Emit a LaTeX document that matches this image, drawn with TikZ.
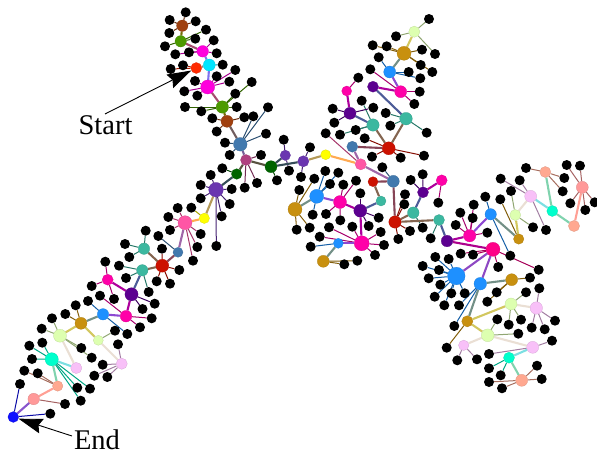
\documentclass[tikz,border=0pt]{standalone}
\usepackage{fontspec}
\setmainfont{Liberation Serif}
\usetikzlibrary{arrows.meta,backgrounds}
\definecolor{Br}{HTML}{A0400F}
\definecolor{Gr}{HTML}{4C9A00}
\definecolor{Mg}{HTML}{FF00DD}
\definecolor{Cy}{HTML}{00E5FF}
\definecolor{Rd}{HTML}{FF2A00}
\definecolor{St}{HTML}{4279AE}
\definecolor{Pl}{HTML}{B04080}
\definecolor{DG}{HTML}{006400}
\definecolor{Vi}{HTML}{6A35B0}
\definecolor{Ye}{HTML}{FFFF00}
\definecolor{Pk}{HTML}{FF55A5}
\definecolor{DR}{HTML}{CC1100}
\definecolor{Te}{HTML}{3CB8A0}
\definecolor{DP}{HTML}{5C0090}
\definecolor{HM}{HTML}{FF00A8}
\definecolor{Bl}{HTML}{1E90FF}
\definecolor{Go}{HTML}{C8900F}
\definecolor{LG}{HTML}{DDFFB0}
\definecolor{LP}{HTML}{F8C0F8}
\definecolor{Sp}{HTML}{00FFCC}
\definecolor{Sa}{HTML}{FFA890}
\definecolor{PS}{HTML}{FF9999}
\definecolor{En}{HTML}{1010FF}
\definecolor{DK}{HTML}{FF0088}
\tikzset{
  hubnode/.style={circle,inner sep=0pt,draw=#1!85!black,line width=0.25pt,fill=#1},
  leafnode/.style={circle,inner sep=0pt,minimum size=10pt,fill=black},
  leafedge/.style={line width=1pt},
  hubedge/.style={line width=2.1pt},
  callout/.style={line width=0.9pt,-{Stealth[length=24pt,width=15pt,inset=3pt]}},
  lab/.style={inner sep=0pt,font=\fontsize{28.5}{30}\selectfont},
}
\newcount\leafno
\newcommand\edgelist{}
\newcommand\addedge[1]{\xdef\edgelist{\unexpanded\expandafter{\edgelist}#1}}
\newcommand\hubline[2]{\draw[hubedge,draw=hc#1!50!hc#2] (#1) -- (#2);}
\newcommand\leafline[2]{\draw[leafedge,draw=hc#1!65!black] (#1) -- (#2);}
\newcommand\hub[5]{\colorlet{hc#1}{#4}\node[hubnode=#4,minimum size=#5*2pt] (#1) at (#2,#3) {};}
\newcommand\hh[2]{\addedge{\noexpand\hubline{#1}{#2}}}
\newcommand\lf[3]{\global\advance\leafno by 1
  \node[leafnode] (L\the\leafno) at (#2,#3) {};
  \addedge{\noexpand\leafline{#1}{L\the\leafno}}}
\begin{document}
\begin{tikzpicture}[x=1pt,y=-1pt]
\useasboundingbox (0,0) rectangle (597,455);
% hubs
\hub{aa}{182.3}{25.7}{Br}{5.7}
\hub{ab}{180.7}{41.3}{Gr}{5.7}
\hub{ac}{202.7}{51.3}{Mg}{5.8}
\hub{ad}{209.3}{65}{Cy}{6}
\hub{ae}{196.3}{68}{Rd}{5.5}
\hub{af}{207.7}{87}{Mg}{7}
\hub{ag}{222.3}{107}{Gr}{6.2}
\hub{ah}{227}{121.3}{Br}{6}
\hub{ai}{240.3}{144.3}{St}{6.8}
\hub{ba}{246}{160}{Pl}{5.5}
\hub{bb}{236.7}{174}{DG}{5.3}
\hub{bc}{271}{166.7}{DG}{6}
\hub{bd}{285.3}{155.3}{Vi}{5.2}
\hub{be}{303.3}{161.3}{Vi}{5.6}
\hub{bf}{325.7}{154.7}{Ye}{5}
\hub{bg}{216}{189.7}{Vi}{7.3}
\hub{bh}{204.3}{218.3}{Ye}{5.2}
\hub{da}{185}{222.7}{Pk}{7}
\hub{db}{178}{252.3}{St}{5}
\hub{dc}{162.3}{265.7}{DR}{6.5}
\hub{dd}{144}{248.7}{Te}{5.7}
\hub{de}{142.3}{270.3}{Te}{5.7}
\hub{df}{131.5}{294.3}{DP}{6.6}
\hub{dg}{107.7}{279.7}{HM}{5.5}
\hub{dh}{126}{316.2}{HM}{5.8}
\hub{di}{103}{314.3}{Bl}{5.7}
\hub{dj}{81}{323.3}{Go}{6}
\hub{ea}{60}{335.7}{LG}{6.5}
\hub{eb}{98.3}{340.3}{LG}{5}
\hub{ec}{121.7}{363.7}{LP}{5.6}
\hub{ed}{76.3}{368}{LP}{5.6}
\hub{ee}{51.7}{359.3}{Sp}{6.6}
\hub{ef}{57.7}{386}{Sa}{5.2}
\hub{eg}{33.7}{399}{PS}{5.8}
\hub{eh}{13.3}{417}{En}{5.4}
\hub{fa}{360.7}{164.3}{Pk}{5.6}
\hub{fb}{352.3}{146.7}{St}{5.5}
\hub{fc}{388.7}{148.3}{DR}{6.5}
\hub{fd}{406}{118.7}{Te}{6.3}
\hub{fe}{373}{125}{Te}{6.2}
\hub{ff}{350}{113.3}{DP}{6}
\hub{fg}{346.7}{91}{HM}{5}
\hub{fh}{373}{86.7}{DP}{5.5}
\hub{fi}{400.7}{91.7}{HM}{6}
\hub{fj}{389.7}{72}{Bl}{6}
\hub{fk}{404}{53.3}{Go}{7}
\hub{fl}{414.3}{31.7}{LG}{5.6}
\hub{ga}{393.3}{181.3}{St}{6}
\hub{gb}{373}{181.7}{DR}{5}
\hub{gc}{381}{201}{Te}{5}
\hub{gd}{360.3}{210.7}{DP}{6.5}
\hub{ge}{340}{202}{HM}{6.5}
\hub{gf}{316.7}{196.3}{Bl}{7}
\hub{gg}{295}{209.3}{Go}{7}
\hub{gh}{361.7}{243.3}{HM}{7.5}
\hub{gi}{338.3}{243.3}{Bl}{5}
\hub{gj}{323.3}{261.3}{Go}{6}
\hub{ha}{395}{222}{DR}{6.2}
\hub{hb}{413.3}{212.7}{Te}{5.8}
\hub{hc}{423}{192.3}{DP}{5.5}
\hub{hd}{441.7}{180.3}{HM}{5.5}
\hub{he}{439}{220}{Te}{5.5}
\hub{hf}{447}{241}{DP}{5.8}
\hub{ia}{469.7}{235.7}{HM}{6.2}
\hub{ib}{493}{249.3}{DK}{7}
\hub{ic}{490.7}{214.3}{Bl}{5.7}
\hub{id}{518.7}{239}{Go}{5.2}
\hub{ie}{515.3}{215}{LG}{5.5}
\hub{if}{530.7}{196.3}{LP}{6}
\hub{ig}{552.3}{211}{Sp}{5.5}
\hub{ih}{545.3}{172}{Sa}{5.5}
\hub{ii}{574}{226}{Sa}{5.6}
\hub{ij}{582.3}{187.3}{PS}{6}
\hub{ja}{456.3}{276}{Bl}{8.8}
\hub{jb}{480.3}{283.7}{Bl}{6.3}
\hub{jc}{511.7}{279.7}{Go}{6}
\hub{jd}{467.3}{321.3}{Go}{5.6}
\hub{je}{511}{304}{LG}{6}
\hub{jf}{536.3}{308}{LP}{6.2}
\hub{jg}{487.7}{335.3}{LG}{6.4}
\hub{jh}{463.7}{345.3}{LP}{5.2}
\hub{ji}{532.7}{347.3}{LP}{6}
\hub{jj}{509}{357.7}{Sp}{5.5}
\hub{jk}{521.7}{380.3}{Sa}{6}
% leaves
\lf{aa}{185.7}{12.3}\lf{aa}{169.7}{20}\lf{aa}{195.7}{21.3}\lf{aa}{169.3}{33}
\lf{ab}{206}{29.7}\lf{ab}{165}{46.3}\lf{ab}{195.3}{38.7}
\lf{ac}{213.7}{40.3}\lf{ac}{189}{52.3}\lf{ac}{175.3}{54.3}\lf{ac}{216.7}{53.3}
\lf{ad}{222.7}{64.7}
\lf{ae}{170.7}{69}\lf{ae}{183}{65.3}
\lf{af}{235.3}{70}\lf{af}{229.3}{81.7}\lf{af}{195}{81}\lf{af}{184.3}{91.3}\lf{af}{197.3}{95.7}\lf{af}{216.7}{76.3}
\lf{ag}{251.7}{82}\lf{ag}{235.3}{93.7}\lf{ag}{236.7}{107}\lf{ag}{185}{107}\lf{ag}{201.3}{111.3}
\lf{ah}{212.3}{118.3}\lf{ah}{244.3}{117.3}\lf{ah}{216.7}{131.5}
\lf{ai}{225}{142.7}\lf{ai}{229.7}{155}\lf{ai}{266}{133.7}\lf{ai}{268}{107.3}\lf{ai}{253.3}{116.3}
\lf{ba}{261}{155}\lf{ba}{257}{183}\lf{ba}{244.7}{187.7}
\lf{bb}{222.3}{168.3}\lf{bc}{277}{180.3}
\lf{bd}{283.7}{139.7}\lf{bd}{289}{170.7}
\lf{be}{310}{147.3}\lf{be}{301}{177}
\lf{bg}{210.7}{175}\lf{bg}{200.7}{185}\lf{bg}{200.7}{198.3}\lf{bg}{231.7}{189}\lf{bg}{229.7}{204}\lf{bg}{221.7}{216.3}\lf{bg}{216.3}{246}
\lf{bh}{191.3}{207.7}
\lf{da}{177.7}{208}\lf{da}{168.3}{217}\lf{da}{170}{230}\lf{da}{200.7}{234}\lf{da}{197.3}{247}\lf{da}{193}{260.7}
\lf{db}{158.3}{236}
\lf{dc}{162}{248.7}\lf{dc}{179.3}{270}\lf{dc}{170}{283.7}\lf{dc}{156.7}{281.3}
\lf{dd}{145.7}{230.7}\lf{dd}{125}{244}\lf{dd}{129.3}{257}
\lf{de}{119}{265.7}\lf{de}{126}{278}\lf{de}{148.7}{292}
\lf{dg}{105.3}{261.7}\lf{dg}{91.7}{286}\lf{dg}{114}{299}
\lf{df}{154.7}{303.7}\lf{df}{142.5}{309}
\lf{dh}{100}{295.7}\lf{dh}{151.7}{318.3}\lf{dh}{140}{327.3}
\lf{di}{88}{301}\lf{di}{127.3}{334}
\lf{dj}{75.7}{305.3}\lf{dj}{65.3}{314}
\lf{ea}{52}{318.3}\lf{ea}{41.7}{328.7}\lf{ea}{81.3}{348}\lf{ea}{91.7}{357.7}
\lf{eb}{115}{330.7}
\lf{ec}{118}{344.3}\lf{ec}{94.3}{375.7}\lf{ec}{107.3}{377}\lf{ec}{102.7}{364.7}
\lf{ee}{29.3}{345.7}\lf{ee}{42.3}{342.7}\lf{ee}{32}{359}\lf{ee}{77.3}{387.7}\lf{ee}{80.7}{400.7}\lf{ee}{90}{388.7}
\lf{ef}{24.3}{370.7}\lf{ef}{37.7}{373.3}
\lf{eg}{65}{404}
\lf{eh}{50.3}{413.7}\lf{eh}{20}{384}
\lf{fa}{325.7}{133.3}\lf{ga}{382.3}{167.3}
\lf{fc}{364.7}{138.3}\lf{fc}{372}{156.7}\lf{fc}{400.7}{157.7}\lf{fc}{424}{155.7}
\lf{fd}{385.7}{113}\lf{fd}{390.3}{125.7}\lf{fd}{426.7}{132.7}
\lf{fe}{361.7}{100.7}\lf{fe}{355.7}{130}\lf{fe}{340}{134.7}
\lf{ff}{332.7}{108.7}\lf{ff}{334.3}{122.7}\lf{ff}{373.3}{107.7}
\lf{fg}{358.3}{77.7}
\lf{fi}{370.3}{69.3}\lf{fi}{419.7}{91.7}\lf{fi}{414.3}{104}
\lf{fj}{378.7}{57.3}\lf{fj}{408.7}{72}\lf{fj}{420.3}{78.3}
\lf{fk}{372.7}{45.3}\lf{fk}{386.7}{46.3}\lf{fk}{422}{49.7}\lf{fk}{420.7}{65}\lf{fk}{432.3}{72}
\lf{fl}{429}{19}\lf{fl}{396}{36.3}\lf{fl}{435}{54}
\lf{gg}{314.3}{178.7}\lf{gg}{299.3}{190}\lf{gg}{296.7}{229.7}\lf{gg}{309.7}{227.7}
\lf{gf}{325.3}{171}\lf{gf}{330}{184}\lf{gf}{312.7}{214.7}\lf{gf}{338.3}{172.7}
\lf{ge}{356}{180.7}\lf{ge}{343.3}{184.7}\lf{ge}{326}{214}\lf{ge}{340.3}{220.3}
\lf{gd}{360.3}{193.3}\lf{gd}{378.7}{217.7}\lf{gd}{368.7}{226}
\lf{gh}{352.3}{226.7}\lf{gh}{329}{227.3}\lf{gh}{319.7}{236.7}\lf{gh}{380.7}{232}\lf{gh}{384}{245}\lf{gh}{375}{255}
\lf{gi}{310.7}{246.7}
\lf{gj}{357.3}{260.7}\lf{gj}{344.3}{264.3}
\lf{ha}{405}{194.3}\lf{ha}{404.3}{204.3}\lf{ha}{410}{231}\lf{ha}{398.3}{239}
\lf{hb}{422.7}{227.7}
\lf{hc}{410.7}{180}\lf{hc}{422.7}{174.3}
\lf{hd}{438.3}{202.7}
\lf{he}{430.7}{238.3}
\lf{ia}{460.3}{212.7}\lf{ia}{472.7}{218}\lf{ia}{473.7}{204.7}\lf{ia}{455.7}{225}\lf{ia}{487.3}{232.7}
\lf{ib}{460.7}{253.7}\lf{ib}{473}{254.7}\lf{ib}{538.7}{269.8}\lf{ib}{498.2}{267}
\lf{ic}{485.3}{196.7}\lf{ic}{510.3}{255.7}
\lf{id}{500.3}{199.3}
\lf{ie}{511}{191}\lf{ie}{533}{227.3}
\lf{if}{500.7}{178.7}\lf{if}{519.7}{180.3}\lf{if}{546}{230}
\lf{ih}{526}{168}\lf{ih}{564.3}{178}\lf{ih}{562.7}{191.3}
\lf{ij}{566.7}{165}\lf{ij}{580}{165.7}\lf{ij}{570.3}{203.3}\lf{ij}{585.3}{210}\lf{ij}{594.7}{202.3}
\lf{ja}{435.3}{257}\lf{ja}{448.7}{259}\lf{ja}{422.7}{266}\lf{ja}{439}{270}\lf{ja}{428.7}{278.3}\lf{ja}{440.3}{284.7}\lf{ja}{434.7}{296.7}\lf{ja}{444.3}{305.3}\lf{ja}{451.3}{293.3}\lf{ja}{464.7}{293.3}
\lf{jb}{459}{305.3}\lf{jb}{454.3}{326}
\lf{jc}{530}{277.7}\lf{jc}{496.7}{292.3}\lf{jc}{487.3}{301.7}
\lf{jd}{446.7}{347.7}
\lf{je}{526}{292.3}\lf{je}{521}{319.7}\lf{je}{508.7}{324.7}
\lf{jf}{539.3}{288.3}\lf{jf}{555}{320.7}\lf{jf}{544.7}{329.3}\lf{jf}{531.7}{327.7}
\lf{jg}{497.3}{319.3}\lf{jg}{518.3}{333.7}
\lf{jh}{457.3}{360.3}\lf{jh}{477}{359.3}
\lf{ji}{552}{340.7}\lf{ji}{489}{354}
\lf{jj}{489}{368.3}\lf{jj}{500.7}{375.3}
\lf{jk}{537}{365.7}\lf{jk}{541.7}{379}\lf{jk}{489}{382}\lf{jk}{502}{388.3}
% hub to hub
\hh{aa}{ab}\hh{ab}{ac}\hh{ac}{ad}\hh{ad}{ae}\hh{ad}{af}\hh{af}{ag}\hh{ag}{ah}\hh{ah}{ai}\hh{ai}{ba}
\hh{ba}{bb}\hh{ba}{bc}\hh{bb}{bg}\hh{bc}{bd}\hh{bc}{be}\hh{be}{bf}\hh{bf}{fa}\hh{bg}{bh}\hh{bh}{da}
\hh{da}{db}\hh{db}{dc}\hh{dc}{dd}\hh{dc}{de}\hh{de}{df}\hh{df}{dg}\hh{df}{dh}\hh{dh}{di}\hh{di}{dj}
\hh{dj}{ea}\hh{dj}{eb}\hh{ea}{ed}\hh{eb}{ec}\hh{ee}{ed}\hh{ee}{ef}\hh{ef}{eg}\hh{eg}{eh}
\hh{fa}{fb}\hh{fb}{fc}\hh{fc}{fd}\hh{fc}{fe}\hh{fe}{ff}\hh{ff}{fg}\hh{fd}{fh}\hh{fh}{fi}\hh{fi}{fj}\hh{fj}{fk}\hh{fk}{fl}
\hh{fa}{ga}\hh{ga}{gb}\hh{ga}{ha}\hh{gb}{gc}\hh{gc}{gd}\hh{gd}{ge}\hh{gd}{gh}\hh{ge}{gf}\hh{gf}{gg}\hh{gh}{gi}\hh{gi}{gj}
\hh{ha}{hb}\hh{ha}{he}\hh{hb}{hc}\hh{hc}{hd}\hh{he}{hf}\hh{hf}{ia}\hh{hf}{ib}\hh{ia}{ic}\hh{ic}{id}\hh{id}{ie}\hh{ie}{if}\hh{if}{ig}\hh{ig}{ih}\hh{ig}{ii}\hh{ii}{ij}
\hh{ib}{ja}\hh{ib}{jb}\hh{jb}{jc}\hh{jb}{jd}\hh{jd}{je}\hh{jd}{jg}\hh{je}{jf}\hh{jg}{jh}\hh{jg}{ji}\hh{ji}{jj}\hh{jj}{jk}
\begin{pgfonlayer}{background}
\edgelist
\end{pgfonlayer}
% labels and callouts
\node[lab] (startlabel) at (105.5,125) {Start};
\node[lab] (endlabel) at (97,439.5) {End};
\coordinate (starttail) at (105,114);
\coordinate (endtail) at (72,436);
\draw[callout] (starttail) -- (ae);
\draw[callout] (endtail) -- (eh);
\end{tikzpicture}
\end{document}
